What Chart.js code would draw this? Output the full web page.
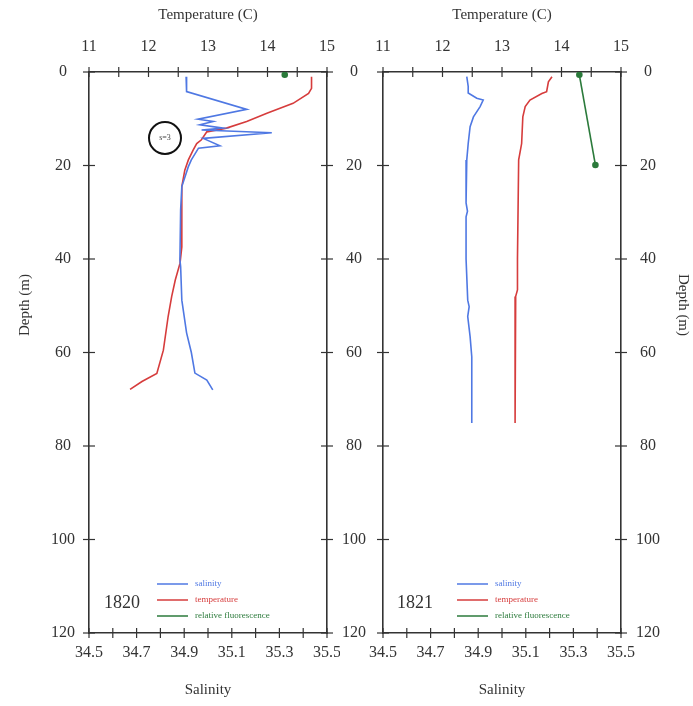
<!DOCTYPE html>
<html>
<head>
<meta charset="utf-8">
<script src="https://cdn.jsdelivr.net/npm/chart.js@4/dist/chart.umd.min.js"></script>
<style>
  body { margin: 0; background: #fff; }
  #wrap { position: relative; width: 693px; height: 706px; }
  canvas { position: absolute; top: 0; }
</style>
</head>
<body>
<div id="wrap">
  <canvas id="c1820" width="340" height="706" style="left:0"></canvas>
  <canvas id="c1821" width="353" height="706" style="left:340px"></canvas>
</div>
<script>
// axis ranges / labels
const salinityRange = [34.5, 35.5];
const tempRange = [11, 15];
const depthRange = [0, 120];
const seriesLabels = ["salinity", "temperature", "relative fluorescence"];
const seriesColors = ["#4f78e3", "#d63c3c", "#2b7a3b"];

// 1820 station
const sal1820Depth = [1, 4.2, 8, 10.1, 10.6, 11.3, 12, 12.4, 13, 14.2, 15.8, 16.3, 18.8, 20.3, 21.7, 24.5, 29.5, 40.2, 41.6, 48.8, 55.8, 60, 64.4, 65.9, 68];
const sal1820 = [34.908, 34.91, 35.163, 34.958, 35.022, 34.966, 35.064, 34.973, 35.268, 34.98, 35.05, 34.96, 34.93, 34.917, 34.908, 34.89, 34.885, 34.882, 34.885, 34.89, 34.91, 34.93, 34.945, 34.995, 35.02];
const temp1820Depth = [1, 3.5, 4.6, 6.7, 8.8, 10.6, 12, 12.8, 14.5, 15.3, 16.7, 18.8, 21, 24.5, 37.4, 40.9, 44.5, 48, 52.3, 59.5, 64.5, 66.2, 67.9];
const temp1820 = [14.74, 14.74, 14.69, 14.43, 13.99, 13.65, 13.31, 12.98, 12.89, 12.81, 12.75, 12.67, 12.61, 12.56, 12.56, 12.53, 12.45, 12.39, 12.33, 12.25, 12.14, 11.89, 11.69];
const fluo1820Depth = [0.6];
const fluo1820 = [14.29];

// 1821 station
const sal1821Depth = [1, 3.1, 4.5, 5.6, 6, 7.4, 9.6, 11.7, 15.3, 18.8, 28, 29.8, 31, 40, 48.8, 50.2, 52.3, 56.6, 60.9, 75.1];
const sal1821 = [34.852, 34.858, 34.858, 34.894, 34.921, 34.908, 34.88, 34.866, 34.858, 34.852, 34.849, 34.855, 34.849, 34.849, 34.856, 34.862, 34.856, 34.866, 34.873, 34.873];
const temp1821Depth = [1, 2.1, 4.2, 4.6, 6, 7.4, 9.6, 15.3, 17.4, 18.8, 40, 46.6, 48, 75.1];
const temp1821 = [13.84, 13.78, 13.75, 13.67, 13.47, 13.39, 13.35, 13.33, 13.3, 13.28, 13.26, 13.26, 13.23, 13.22];
const fluo1821Depth = [0.6, 19.9];
const fluo1821 = [14.3, 14.57];

const serif = "'Liberation Serif', 'DejaVu Serif', serif";
const ink = "#333";

const pairs = (xs, ds) => xs.map((v, i) => ({ x: v, y: ds[i] }));

// ticks crossing the frame, drawn on the scales' own tick values
const tickMarks = {
  id: "tickMarks",
  afterDraw(chart) {
    const ctx = chart.ctx, a = chart.chartArea;
    ctx.save();
    ctx.strokeStyle = ink;
    ctx.lineWidth = 1.2;
    Object.values(chart.scales).forEach(s => {
      s.ticks.forEach(t => {
        const p = s.getPixelForValue(t.value);
        ctx.beginPath();
        if (s.position === "bottom") { ctx.moveTo(p, a.bottom - 5); ctx.lineTo(p, a.bottom + 5); }
        if (s.position === "top") { ctx.moveTo(p, a.top - 5); ctx.lineTo(p, a.top + 5); }
        if (s.position === "left") { ctx.moveTo(a.left - 6, p); ctx.lineTo(a.left + 6, p); }
        if (s.position === "right") { ctx.moveTo(a.right - 6, p); ctx.lineTo(a.right + 6, p); }
        ctx.stroke();
      });
    });
    ctx.restore();
  }
};

// legend, year, depth title and the odd annotation
const extras = {
  id: "extras",
  afterDraw(chart) {
    const o = chart.options.plugins.extras;
    const ctx = chart.ctx;
    ctx.save();
    // legend
    ctx.font = "9px " + serif;
    ctx.textBaseline = "middle";
    seriesLabels.forEach((lab, i) => {
      const y = o.legendY + i * 16;
      ctx.strokeStyle = seriesColors[i];
      ctx.lineWidth = 1.5;
      ctx.beginPath();
      ctx.moveTo(o.legendX, y);
      ctx.lineTo(o.legendX + 31, y);
      ctx.stroke();
      ctx.fillStyle = seriesColors[i];
      ctx.textAlign = "left";
      ctx.fillText(lab, o.legendX + 38, y);
    });
    // year
    ctx.fillStyle = ink;
    ctx.font = "18px " + serif;
    ctx.textAlign = "center";
    ctx.fillText(o.year, o.yearX, 603);
    // depth title
    ctx.font = "15px " + serif;
    ctx.translate(o.titleX, 305);
    ctx.rotate(o.titleRot);
    ctx.fillText("Depth (m)", 0, 0);
    ctx.restore();
    if (o.circle) {
      ctx.save();
      ctx.strokeStyle = "#111";
      ctx.lineWidth = 2;
      ctx.beginPath();
      ctx.arc(o.circle[0], o.circle[1], 16, 0, Math.PI * 2);
      ctx.stroke();
      ctx.fillStyle = "#444";
      ctx.font = "8px " + serif;
      ctx.textAlign = "center";
      ctx.textBaseline = "middle";
      ctx.fillText("s=3", o.circle[0], o.circle[1]);
      ctx.restore();
    }
  }
};

// fixed box sizes; no extra room for overhanging labels
const fixBox = (w, h) => s => {
  if (w != null) s.width = w;
  if (h != null) s.height = h;
  s.paddingLeft = s.paddingRight = s.paddingTop = s.paddingBottom = 0;
};

function makePanel(id, d, lay) {
  const line = (label, pts, axis, color, pr) => ({
    label: label, data: pts, xAxisID: axis, yAxisID: "depth",
    showLine: true, borderColor: color, backgroundColor: color,
    borderWidth: 1.6, pointRadius: pr, tension: 0
  });
  const tickFont = { family: serif, size: 16 };
  const noGrid = { display: false, drawTicks: false };
  new Chart(document.getElementById(id), {
    type: "scatter",
    data: {
      datasets: [
        line(seriesLabels[0], pairs(d.sal, d.salD), "sal", seriesColors[0], 0),
        line(seriesLabels[1], pairs(d.temp, d.tempD), "temp", seriesColors[1], 0),
        line(seriesLabels[2], pairs(d.fluo, d.fluoD), "temp", seriesColors[2], 2.5)
      ]
    },
    options: {
      responsive: false,
      animation: false,
      devicePixelRatio: 1,
      layout: { padding: 0 },
      plugins: {
        legend: { display: false },
        tooltip: { enabled: false },
        extras: lay.extras
      },
      scales: {
        sal: {
          type: "linear", position: "bottom",
          min: salinityRange[0], max: salinityRange[1],
          grid: noGrid,
          border: { display: true, color: ink, width: 1.6 },
          ticks: {
            stepSize: 0.1, autoSkip: false, maxRotation: 0, padding: 10,
            color: ink, font: tickFont,
            callback: v => (Math.round(v * 10) % 2 ? v.toFixed(1) : "")
          },
          title: { display: true, text: "Salinity", color: ink, font: { family: serif, size: 15 }, padding: { top: 0, bottom: 7 } },
          afterFit: fixBox(null, 73)
        },
        temp: {
          type: "linear", position: "top",
          min: tempRange[0], max: tempRange[1],
          grid: noGrid,
          border: { display: true, color: ink, width: 1.6 },
          ticks: {
            stepSize: 0.5, autoSkip: false, maxRotation: 0, padding: 16,
            color: ink, font: tickFont,
            callback: v => (Number.isInteger(v) ? String(v) : "")
          },
          title: { display: true, text: "Temperature (C)", color: ink, font: { family: serif, size: 15 }, padding: { top: 6, bottom: 0 } },
          afterFit: fixBox(null, 72)
        },
        depth: {
          type: "linear", position: "left", reverse: true,
          min: depthRange[0], max: depthRange[1],
          grid: noGrid,
          border: { display: true, color: ink, width: 1.6 },
          ticks: {
            stepSize: 20, display: lay.leftLabels, crossAlign: "center",
            padding: lay.leftPad, color: ink, font: tickFont
          },
          afterFit: fixBox(lay.leftW, null)
        },
        depthR: {
          type: "linear", position: "right", reverse: true,
          min: depthRange[0], max: depthRange[1],
          grid: noGrid,
          border: { display: true, color: ink, width: 1.6 },
          ticks: {
            stepSize: 20, display: lay.rightLabels, crossAlign: "center",
            padding: 15, color: ink, font: tickFont
          },
          afterFit: fixBox(lay.rightW, null)
        }
      }
    },
    plugins: [tickMarks, extras]
  });
}

makePanel("c1820",
  { sal: sal1820, salD: sal1820Depth, temp: temp1820, tempD: temp1820Depth, fluo: fluo1820, fluoD: fluo1820Depth },
  { leftW: 89, rightW: 13, leftLabels: true, rightLabels: false, leftPad: 14,
    extras: { legendX: 157, legendY: 584, year: "1820", yearX: 122, titleX: 25, titleRot: -Math.PI / 2, circle: [165, 138] } });

makePanel("c1821",
  { sal: sal1821, salD: sal1821Depth, temp: temp1821, tempD: temp1821Depth, fluo: fluo1821, fluoD: fluo1821Depth },
  { leftW: 43, rightW: 72, leftLabels: true, rightLabels: true, leftPad: 17,
    extras: { legendX: 117, legendY: 584, year: "1821", yearX: 75, titleX: 343, titleRot: Math.PI / 2, circle: null } });
</script>
</body>
</html>
